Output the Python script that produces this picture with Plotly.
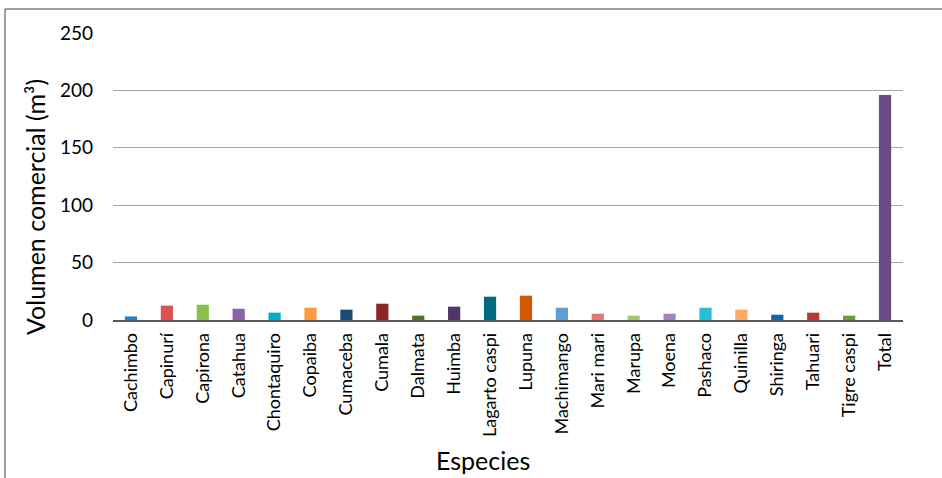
import plotly.graph_objects as go

especies = ["Cachimbo", "Capinurí", "Capirona", "Catahua", "Chontaquiro", "Copaiba",
            "Cumaceba", "Cumala", "Dalmata", "Huimba", "Lagarto caspi", "Lupuna",
            "Machimango", "Mari mari", "Marupa", "Moena", "Pashaco", "Quinilla",
            "Shiringa", "Tahuari", "Tigre caspi", "Total"]
volumen = [3.1, 12.5, 13.3, 9.8, 6.4, 10.7, 9.0, 14.2, 3.8, 11.6, 20.3, 21.2,
           10.7, 5.5, 3.8, 5.5, 10.7, 9.0, 4.6, 6.4, 3.8, 195.9]
colores = ["#2A7FC0", "#DE4F4F", "#8CBF4E", "#8A63A8", "#00ADC6", "#FF9A40",
           "#1B4A76", "#8A2626", "#4E7329", "#4F3767", "#006C7E", "#D35800",
           "#5E9ED4", "#E87474", "#9FC96E", "#A285BE", "#24BFD6", "#FFA963",
           "#0F67A6", "#BC3737", "#699D33", "#6B4A86"]
y_ticks = [0, 50, 100, 150, 200, 250]

W, H = 942, 478
L, R, T, B = 113, 39, 33, 158
pw, ph = W - L - R, H - T - B

def px(x):
    return (x - L) / pw

def py(y):
    return (H - B - y) / ph

fig = go.Figure(go.Bar(x=especies, y=volumen, marker=dict(color=colores, line=dict(width=0)),
                       width=0.34))

FONT = "Lato"
fig.update_layout(
    width=W, height=H,
    margin=dict(l=L, r=R, t=T, b=B),
    paper_bgcolor="white", plot_bgcolor="white",
    showlegend=False,
    font=dict(family=FONT, color="#000000", size=18),
    xaxis=dict(tickangle=-90, showgrid=False, showline=True, linecolor="#595959",
               linewidth=1.5, ticks="", tickfont=dict(size=18), ticklabelstandoff=4,
               categoryorder="array", categoryarray=especies),
    yaxis=dict(range=[0, 250], tickvals=y_ticks, showgrid=True, gridcolor="#A6A6A6",
               gridwidth=1, zeroline=False, showline=False, ticks="",
               tickfont=dict(size=19), ticklabelstandoff=19),
    shapes=[dict(type="rect", xref="paper", yref="paper",
                 x0=px(5), x1=px(960), y0=py(500), y1=py(9),
                 line=dict(color="#404040", width=1), fillcolor="rgba(0,0,0,0)", layer="below")],
    annotations=[
        dict(text="Volumen comercial (m³)", xref="paper", yref="paper",
             x=px(35), y=py(207), showarrow=False, textangle=-90,
             font=dict(size=25, family=FONT), xanchor="center", yanchor="middle"),
        dict(text="Especies", xref="paper", yref="paper",
             x=px(483), y=py(460), showarrow=False,
             font=dict(size=25, family=FONT), xanchor="center", yanchor="middle"),
    ],
)

fig.write_html("out.html")
